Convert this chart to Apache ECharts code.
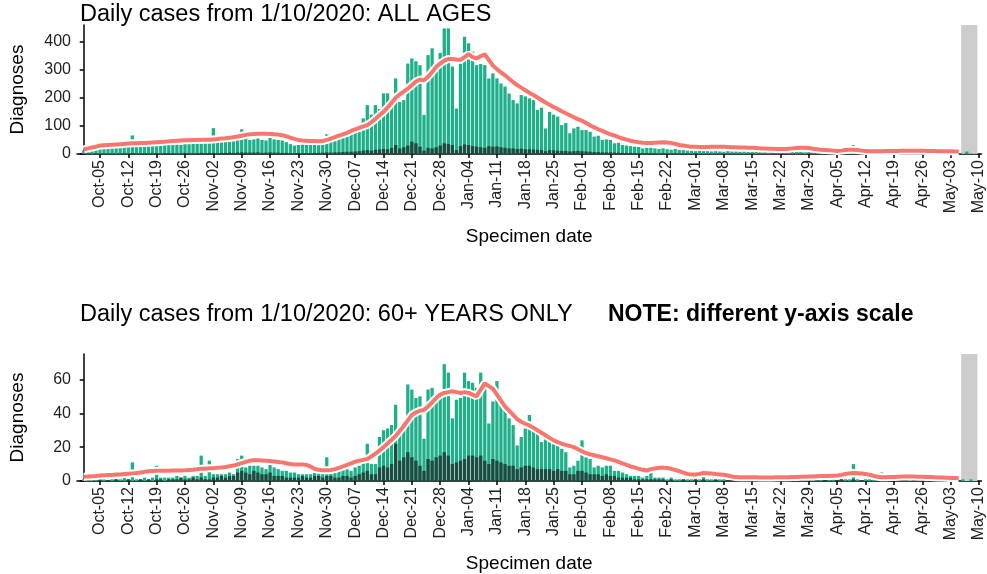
<!DOCTYPE html>
<html>
<head>
<meta charset="utf-8">
<script src="https://cdn.jsdelivr.net/npm/echarts@6/dist/echarts.min.js"></script>
<style>
  html, body { margin: 0; padding: 0; background: #fff; }
  #chart { width: 987px; height: 574px; }
</style>
</head>
<body>
<div id="chart"></div>
<script>
// Daily diagnoses by specimen date, day 0 = 1 Oct 2020.
const startDate = Date.UTC(2020, 9, 1);

// All ages: total daily diagnoses and the darker sub-group
const allTotal = [
  12, 15, 14, 18, 20, 22, 20,
  22, 24, 22, 25, 27, 66, 26,
  28, 27, 30, 29, 31, 30, 32,
  33, 34, 35, 33, 36, 38, 37,
  38, 37, 39, 40, 92, 41, 42,
  43, 44, 45, 75, 88, 55, 50,
  52, 55, 50, 48, 78, 52, 50,
  48, 42, 35, 30, 32, 34, 33,
  35, 38, 40, 45, 70, 48, 55,
  60, 68, 72, 75, 78, 80, 127,
  174, 140, 174, 160, 216, 216, 200,
  269, 185, 192, 322, 340, 330, 316,
  139, 352, 376, 300, 360, 447, 447,
  311, 162, 322, 417, 394, 364, 316,
  320, 316, 269, 287, 269, 251, 240,
  215, 192, 180, 210, 205, 198, 192,
  157, 165, 91, 150, 140, 133, 103,
  110, 74, 91, 97, 85, 85, 79,
  62, 65, 50, 52, 50, 38, 40,
  32, 30, 28, 26, 25, 20, 22,
  22, 20, 18, 20, 17, 15, 18,
  15, 14, 12, 12, 10, 11, 10,
  10, 9, 10, 9, 8, 10, 9,
  9, 8, 9, 8, 8, 7, 8,
  8, 7, 8, 7, 6, 7, 7,
  7, 8, 7, 6, 7, 6, 6,
  5, 6, 5, 5, 4, 5, 5,
  5, 32, 4, 5, 4, 4, 4,
  4, 3, 4, 4, 3, 3, 4,
  3, 4, 3, 3, 3, 2, 3,
  3, 2, 3, 2, 2, 3, 2,
  2, 9, 2, 1
];
const allDark = [
  1, 2, 1, 2, 1, 2, 2,
  2, 1, 2, 3, 2, 3, 2,
  2, 3, 2, 3, 3, 2, 3,
  3, 3, 2, 3, 4, 3, 3,
  3, 4, 3, 4, 4, 3, 4,
  4, 5, 4, 5, 6, 5, 5,
  5, 6, 4, 5, 6, 5, 5,
  4, 4, 3, 3, 4, 3, 3,
  3, 4, 4, 5, 6, 5, 6,
  6, 7, 8, 8, 9, 10, 12,
  14, 12, 15, 16, 18, 17, 22,
  32, 20, 24, 30, 44, 38, 26,
  12, 22, 20, 24, 30, 38, 36,
  32, 14, 28, 34, 32, 28, 26,
  24, 22, 28, 26, 27, 24, 22,
  20, 20, 18, 19, 17, 17, 16,
  15, 14, 10, 14, 13, 12, 11,
  11, 9, 10, 11, 10, 9, 8,
  7, 7, 6, 6, 6, 5, 5,
  4, 4, 4, 3, 3, 3, 3,
  3, 3, 2, 3, 2, 2, 2,
  2, 2, 2, 1, 2, 1, 1,
  1, 1, 1, 1, 1, 1, 1,
  1, 1, 0, 1, 1, 0, 1,
  1, 0, 1, 1, 0, 1, 0,
  1, 0, 1, 0, 1, 0, 1,
  0, 1, 0, 1, 0, 0, 1,
  0, 2, 0, 1, 0, 0, 1,
  0, 0, 1, 0, 0, 1, 0,
  0, 1, 0, 0, 1, 0, 0,
  1, 0, 0, 1, 0, 0, 0,
  0, 1, 0, 0
];
// All ages: rolling average line
const allAvg = [
  16, 20, 23, 26, 30, 31, 32,
  33, 34, 35, 36, 37, 38, 38,
  39, 39, 40, 41, 42, 43, 44,
  45, 46, 47, 48, 49, 49, 50,
  50, 51, 51, 51, 52, 53, 55,
  56, 58, 60, 62, 65, 68, 70,
  71, 72, 72, 72, 71, 70, 69,
  67, 63, 58, 54, 50, 48, 47,
  46, 46, 45, 46, 50, 55, 60,
  65, 70, 75, 82, 88, 93, 98,
  103, 113, 125, 138, 150, 165, 182,
  200, 212, 222, 233, 245, 258, 265,
  262, 275, 292, 310, 322, 332, 338,
  338, 336, 335, 345, 355, 345, 340,
  348, 355, 335, 315, 302, 290, 280,
  268, 256, 245, 236, 227, 218, 210,
  201, 192, 183, 175, 167, 160, 152,
  145, 138, 131, 124, 118, 110, 102,
  95, 88, 82, 76, 70, 66, 60,
  55, 51, 47, 44, 42, 40, 39,
  39, 40, 41, 42, 41, 39, 36,
  32, 30, 28, 26, 26, 25, 25,
  25, 26, 26, 26, 26, 25, 24,
  24, 23, 23, 22, 22, 21, 20,
  20, 19, 19, 18, 18, 18, 19,
  20, 21, 22, 22, 21, 19, 17,
  15, 14, 13, 12, 11, 12, 14,
  15, 15, 14, 12, 11, 10, 10,
  10, 10, 11, 11, 11, 11, 12,
  12, 12, 12, 12, 12, 11, 11,
  11, 10, 10, 10, 10, 9, 9
];

// 60+ years: total daily diagnoses and the darker sub-group
const oldTotal = [
  1, 0, 1, 1, 1, 1, 0,
  1, 1, 1, 2, 1, 11, 1,
  1, 2, 1, 2, 9, 2, 2,
  2, 2, 3, 2, 3, 2, 3,
  3, 15, 3, 12, 4, 4, 4,
  4, 5, 4, 13, 15, 8, 9,
  9, 9, 8, 7, 14, 8, 7,
  6, 6, 5, 5, 4, 4, 4,
  4, 5, 6, 6, 14, 7, 6,
  6, 7, 7, 6, 8, 9, 13,
  22, 10, 10, 26, 30, 31, 33,
  45, 28, 31, 57, 54, 49, 50,
  25, 54, 55, 50, 52, 69, 64,
  37, 48, 49, 64, 59, 58, 55,
  64, 57, 34, 47, 59, 46, 42,
  37, 33, 21, 26, 31, 39, 31,
  28, 23, 25, 24, 22, 21, 19,
  17, 8, 9, 12, 24, 14, 13,
  8, 9, 8, 9, 9, 6, 6,
  5, 4, 3, 3, 3, 2, 3,
  9, 2, 2, 2, 1, 2, 1,
  1, 1, 1, 1, 1, 1, 6,
  1, 1, 0, 1, 1, 0, 1,
  0, 1, 1, 0, 1, 0, 1,
  0, 1, 0, 1, 0, 1, 0,
  1, 0, 1, 0, 1, 1, 0,
  1, 0, 1, 1, 0, 1, 1,
  1, 10, 1, 0, 1, 1, 1,
  0, 5, 1, 0, 1, 0, 1,
  0, 1, 0, 1, 0, 0, 1,
  0, 1, 0, 0, 1, 0, 0,
  1, 0, 1, 0
];
const oldDark = [
  0, 0, 0, 0, 1, 0, 0,
  0, 1, 0, 0, 1, 0, 0,
  1, 0, 1, 0, 1, 1, 0,
  1, 1, 1, 2, 1, 1, 2,
  1, 2, 1, 1, 2, 2, 3,
  2, 3, 3, 5, 6, 5, 4,
  6, 5, 4, 4, 5, 3, 3,
  3, 2, 2, 2, 2, 3, 2,
  2, 3, 3, 2, 3, 3, 2,
  2, 3, 3, 2, 3, 4, 5,
  6, 4, 4, 8, 9, 8, 10,
  22, 12, 14, 17, 14, 12, 9,
  6, 13, 12, 14, 15, 17, 15,
  10, 11, 12, 13, 15, 15, 14,
  15, 12, 10, 13, 12, 11, 10,
  9, 9, 7, 8, 9, 9, 8,
  7, 7, 7, 7, 6, 7, 6,
  6, 4, 4, 6, 6, 5, 4,
  4, 4, 3, 4, 3, 3, 2,
  2, 2, 2, 1, 1, 1, 1,
  1, 1, 1, 1, 0, 1, 0,
  0, 1, 0, 0, 1, 0, 1,
  0, 0, 1, 0, 0, 0, 1,
  0, 0, 0, 1, 0, 0, 0,
  1, 0, 0, 0, 0, 1, 0,
  0, 0, 1, 0, 0, 0, 0,
  0, 1, 0, 0, 0, 1, 0,
  0, 1, 0, 0, 0, 0, 0,
  1, 0, 0, 0, 0, 0, 1,
  0, 0, 0, 1, 0, 0, 0,
  0, 0, 1, 0, 0, 0, 0,
  0, 0, 0, 0
];
// 60+ years: rolling average line
const oldAvg = [
  2.5, 2.6, 2.8, 3.0, 3.3, 3.4, 3.5,
  3.6, 3.8, 3.9, 4.1, 4.3, 4.5, 4.7,
  5.0, 5.4, 5.8, 5.9, 6.0, 6.0, 6.1,
  6.1, 6.2, 6.2, 6.2, 6.3, 6.5, 6.7,
  7.0, 7.2, 7.3, 7.5, 7.6, 7.8, 8.0,
  8.3, 8.7, 9.1, 9.8, 10.6, 11.3, 12.0,
  12.2, 12.2, 12.1, 12.0, 11.8, 11.5, 11.2,
  11.0, 10.5, 10.0, 9.8, 9.7, 9.7, 9.5,
  8.5, 7.2, 6.6, 6.3, 6.3, 6.5, 7.0,
  7.8, 8.6, 9.5, 10.4, 11.4, 12.0, 12.5,
  13.0, 14.5, 16.2, 18.0, 20.0, 22.2, 24.4,
  26.6, 29.5, 32.5, 35.8, 39.0, 40.5, 41.5,
  42.0, 44.0, 46.5, 49.0, 51.0, 52.0, 52.5,
  53.0, 52.5, 52.0, 52.5, 52.0, 51.0, 50.0,
  54.0, 57.7, 56.0, 54.5, 51.0, 47.5, 44.0,
  41.5, 39.0, 36.5, 35.0, 33.8, 32.8, 31.5,
  30.0, 28.5, 27.0, 25.5, 24.0, 23.0, 22.0,
  21.3, 20.7, 20.0, 18.8, 17.5, 16.5, 15.8,
  15.2, 14.6, 14.0, 13.4, 12.8, 12.2, 11.3,
  10.4, 9.5, 8.6, 8.0, 7.2, 6.6, 6.2,
  7.0, 7.4, 7.8, 7.9, 7.7, 7.2, 6.5,
  5.8, 5.0, 4.2, 3.9, 3.9, 4.2, 4.7,
  4.6, 4.4, 4.1, 3.9, 3.7, 3.2, 2.7,
  2.3, 2.2, 2.2, 2.2, 2.2, 2.2, 2.1,
  2.1, 2.1, 2.1, 2.2, 2.2, 2.2, 2.2,
  2.3, 2.4, 2.5, 2.5, 2.6, 2.7, 2.8,
  2.9, 3.0, 3.0, 3.1, 3.2, 3.6, 4.1,
  4.5, 4.7, 4.6, 4.4, 4.1, 3.7, 3.0,
  2.5, 2.2, 2.2, 2.3, 2.4, 2.5, 2.6,
  2.6, 2.6, 2.6, 2.5, 2.5, 2.4, 2.3,
  2.2, 2.1, 2.0, 1.9, 1.8, 1.7, 1.6
];

// Weekly tick labels on the date axis
const tickLabels = [
  'Oct-05', 'Oct-12', 'Oct-19', 'Oct-26', 'Nov-02', 'Nov-09', 'Nov-16', 'Nov-23',
  'Nov-30', 'Dec-07', 'Dec-14', 'Dec-21', 'Dec-28', 'Jan-04', 'Jan-11', 'Jan-18',
  'Jan-25', 'Feb-01', 'Feb-08', 'Feb-15', 'Feb-22', 'Mar-01', 'Mar-08', 'Mar-15',
  'Mar-22', 'Mar-29', 'Apr-05', 'Apr-12', 'Apr-19', 'Apr-26', 'May-03', 'May-10'
];
const yTicksAll = [0, 100, 200, 300, 400];
const yTicksOld = [0, 20, 40, 60];
// Days with incomplete data (shaded)
const incompleteDays = ['May-06', 'May-09'];

const MONTHS = ['Jan', 'Feb', 'Mar', 'Apr', 'May', 'Jun', 'Jul', 'Aug', 'Sep', 'Oct', 'Nov', 'Dec'];
function dayLabel(i) {
  const d = new Date(startDate + i * 86400000);
  return MONTHS[d.getUTCMonth()] + '-' + String(d.getUTCDate()).padStart(2, '0');
}
function dayOf(label) {
  for (let i = 0; i < 260; i++) if (dayLabel(i) === label) return i;
  return null;
}
const tickDays = tickLabels.map(dayOf);
const shadeFrom = dayOf(incompleteDays[0]) - 0.4;
const shadeTo = dayOf(incompleteDays[1]) + 0.6;

const FONT = 'Liberation Sans';
const TEAL = '#1fb08a';
const DARK = '#1e4b3f';
const RED = '#f8766d';
const X_MIN = -1.66, X_MAX = 221.6;

function xAxisFor(gridIndex) {
  return {
    type: 'value', gridIndex, min: X_MIN, max: X_MAX,
    splitLine: { show: false },
    axisLine: { lineStyle: { color: '#000', width: 1.5 } },
    axisTick: { customValues: tickDays, length: 4, lineStyle: { color: '#000', width: 1.5 } },
    axisLabel: {
      customValues: tickDays, rotate: 90, margin: 6,
      formatter: v => dayLabel(Math.round(v)),
      fontSize: 16, color: '#222', fontFamily: FONT
    },
    name: 'Specimen date', nameLocation: 'middle', nameGap: 73,
    nameTextStyle: { fontSize: 19, color: '#000', fontFamily: FONT }
  };
}
function yAxisFor(gridIndex, max, ticks) {
  return {
    type: 'value', gridIndex, min: 0, max,
    splitLine: { show: false },
    axisLine: { show: true, lineStyle: { color: '#000', width: 1.5 } },
    axisTick: { show: true, customValues: ticks, length: 4, lineStyle: { color: '#000', width: 1.5 } },
    axisLabel: { customValues: ticks, margin: 6, fontSize: 16, color: '#222', fontFamily: FONT },
    name: 'Diagnoses', nameLocation: 'middle', nameGap: 50, nameRotate: 90,
    nameTextStyle: { fontSize: 19, color: '#000', fontFamily: FONT }
  };
}
function panelSeries(idx, total, dark, avg) {
  const pts = arr => arr.map((v, i) => [i, v]);
  return [
    {
      type: 'bar', xAxisIndex: idx, yAxisIndex: idx, data: pts(total),
      barWidth: 3.3, itemStyle: { color: TEAL }, z: 2,
      markArea: {
        silent: true, itemStyle: { color: '#cccccc' },
        data: [[{ xAxis: shadeFrom }, { xAxis: shadeTo }]]
      }
    },
    {
      type: 'bar', xAxisIndex: idx, yAxisIndex: idx, data: pts(dark),
      barWidth: 3.3, barGap: '-100%', itemStyle: { color: DARK }, z: 3
    },
    {
      type: 'line', xAxisIndex: idx, yAxisIndex: idx, data: pts(avg),
      showSymbol: false, symbol: 'none', lineStyle: { color: '#ffffff', width: 8 }, z: 4
    },
    {
      type: 'line', xAxisIndex: idx, yAxisIndex: idx, data: pts(avg),
      showSymbol: false, symbol: 'none', lineStyle: { color: RED, width: 4 }, z: 5
    }
  ];
}

const chart = echarts.init(document.getElementById('chart'), null, { renderer: 'canvas' });
chart.setOption({
  animation: false,
  backgroundColor: '#ffffff',
  title: [
    { text: 'Daily cases from 1/10/2020: ALL AGES', left: 80, top: 3, padding: 0,
      textStyle: { fontSize: 23.5, fontWeight: 'normal', color: '#000', fontFamily: FONT } },
    { text: 'Daily cases from 1/10/2020: 60+ YEARS ONLY', left: 80, top: 303, padding: 0,
      textStyle: { fontSize: 23.5, fontWeight: 'normal', color: '#000', fontFamily: FONT } },
    { text: 'NOTE: different y-axis scale', left: 608, top: 303, padding: 0,
      textStyle: { fontSize: 23, fontWeight: 'bold', color: '#000', fontFamily: FONT } }
  ],
  grid: [
    { left: 77, top: 25, width: 907, height: 129 },
    { left: 77, top: 354, width: 907, height: 129 }
  ],
  xAxis: [xAxisFor(0), xAxisFor(1)],
  yAxis: [yAxisFor(0, 459, yTicksAll), yAxisFor(1, 75, yTicksOld)],
  series: [
    ...panelSeries(0, allTotal, allDark, allAvg),
    ...panelSeries(1, oldTotal, oldDark, oldAvg)
  ]
});
</script>
</body>
</html>
